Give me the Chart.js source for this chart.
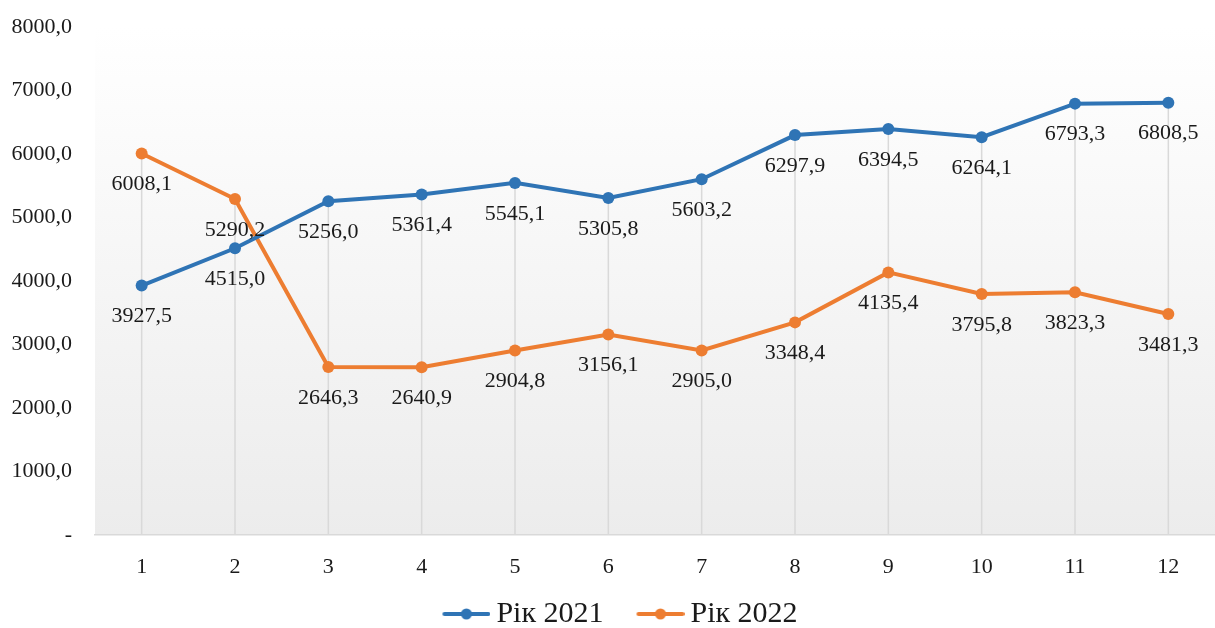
<!DOCTYPE html>
<html>
<head>
<meta charset="utf-8">
<script src="https://cdn.jsdelivr.net/npm/chart.js@4.4.1/dist/chart.umd.min.js"></script>
<style>
  html, body { margin: 0; padding: 0; background: #fff; }
  #wrap { width: 1215px; height: 628px; }
</style>
</head>
<body>
<div id="wrap"><canvas id="chart"></canvas></div>
<script>
const months = ['1', '2', '3', '4', '5', '6', '7', '8', '9', '10', '11', '12'];
const year2021 = [3927.5, 4515.0, 5256.0, 5361.4, 5545.1, 5305.8, 5603.2, 6297.9, 6394.5, 6264.1, 6793.3, 6808.5];
const year2022 = [6008.1, 5290.2, 2646.3, 2640.9, 2904.8, 3156.1, 2905.0, 3348.4, 4135.4, 3795.8, 3823.3, 3481.3];
const seriesNames = ['Рік 2021', 'Рік 2022'];
const yMin = 0, yMax = 8000, yStep = 1000;

const serif = '"Liberation Serif", "Times New Roman", serif';
const colors = { blue: '#2f74b5', orange: '#ed7d31', text: '#1a1a1a', drop: '#d9d9d9' };

const fmt = v => v.toFixed(1).replace('.', ',');

// legend marker: short line with a dot, drawn at the right end of the image
// so that it sits close to the text and leaves room before it
function legendMarker(color) {
    const c = document.createElement('canvas');
    c.width = 86; c.height = 14;
    const g = c.getContext('2d');
    g.strokeStyle = color; g.lineWidth = 4; g.lineCap = 'round';
    g.beginPath(); g.moveTo(40, 7); g.lineTo(84, 7); g.stroke();
    g.fillStyle = color;
    g.beginPath(); g.arc(62, 7, 5.5, 0, Math.PI * 2); g.fill();
    return c;
}

const plotDecor = {
    id: 'plotDecor',
    beforeDraw(chart) {
        const { ctx, chartArea: a } = chart;
        ctx.save();
        const grad = ctx.createLinearGradient(0, a.top, 0, a.bottom);
        grad.addColorStop(0, '#ffffff');
        grad.addColorStop(1, '#ececec');
        ctx.fillStyle = grad;
        ctx.fillRect(a.left, a.top, a.right - a.left, a.bottom - a.top);
        ctx.restore();
    },
    beforeDatasetsDraw(chart) {
        // drop lines from the highest point of each month to the axis
        const { ctx, chartArea: a } = chart;
        const metas = chart.data.datasets.map((d, i) => chart.getDatasetMeta(i));
        ctx.save();
        ctx.strokeStyle = colors.drop;
        ctx.lineWidth = 1.5;
        months.forEach((m, i) => {
            const top = Math.min(...metas.map(mt => mt.data[i].y));
            const x = metas[0].data[i].x;
            ctx.beginPath();
            ctx.moveTo(x, top);
            ctx.lineTo(x, a.bottom);
            ctx.stroke();
        });
        ctx.restore();
    },
    afterDatasetsDraw(chart) {
        const { ctx } = chart;
        ctx.save();
        ctx.font = '22px ' + serif;
        ctx.fillStyle = colors.text;
        ctx.textAlign = 'center';
        ctx.textBaseline = 'middle';
        chart.data.datasets.forEach((ds, i) => {
            chart.getDatasetMeta(i).data.forEach((pt, j) => {
                ctx.fillText(fmt(ds.data[j]), pt.x, pt.y + 31);
            });
        });
        ctx.restore();
    }
};

new Chart(document.getElementById('chart'), {
    type: 'line',
    data: {
        labels: months,
        datasets: [{
            label: seriesNames[0],
            data: year2021,
            borderColor: colors.blue,
            backgroundColor: colors.blue,
            borderWidth: 4,
            pointRadius: 6,
            pointBorderWidth: 0,
            tension: 0
        }, {
            label: seriesNames[1],
            data: year2022,
            borderColor: colors.orange,
            backgroundColor: colors.orange,
            borderWidth: 4,
            pointRadius: 6,
            pointBorderWidth: 0,
            tension: 0
        }]
    },
    options: {
        responsive: true,
        maintainAspectRatio: false,
        animation: false,
        layout: { autoPadding: false, padding: { top: 27, right: -6, bottom: -11, left: -10 } },
        plugins: {
            tooltip: { enabled: false },
            legend: {
                position: 'bottom',
                labels: {
                    usePointStyle: true,
                    pointStyleWidth: 68,
                    padding: 4,
                    color: colors.text,
                    font: { family: serif, size: 30 },
                    generateLabels(chart) {
                        const items = Chart.defaults.plugins.legend.labels.generateLabels(chart);
                        items.forEach((it, i) => {
                            it.pointStyle = legendMarker(i === 0 ? colors.blue : colors.orange);
                        });
                        return items;
                    }
                }
            }
        },
        scales: {
            x: {
                offset: true,
                grid: { display: false },
                border: { color: '#d9d9d9', width: 1.5 },
                ticks: { color: colors.text, font: { family: serif, size: 22 }, padding: 11 },
                afterFit(scale) {
                    scale.height = 60;
                    scale.paddingLeft = 0;
                    scale.paddingRight = 0;
                }
            },
            y: {
                min: yMin,
                max: yMax,
                grid: { display: false },
                border: { display: false },
                ticks: {
                    stepSize: yStep,
                    padding: 15,
                    color: colors.text,
                    font: { family: serif, size: 22 },
                    callback: v => (v === 0 ? '-' : fmt(v))
                },
                afterFit(scale) {
                    scale.width = 105;
                    scale.paddingTop = 0;
                    scale.paddingBottom = 0;
                }
            }
        }
    },
    plugins: [plotDecor]
});
</script>
</body>
</html>
